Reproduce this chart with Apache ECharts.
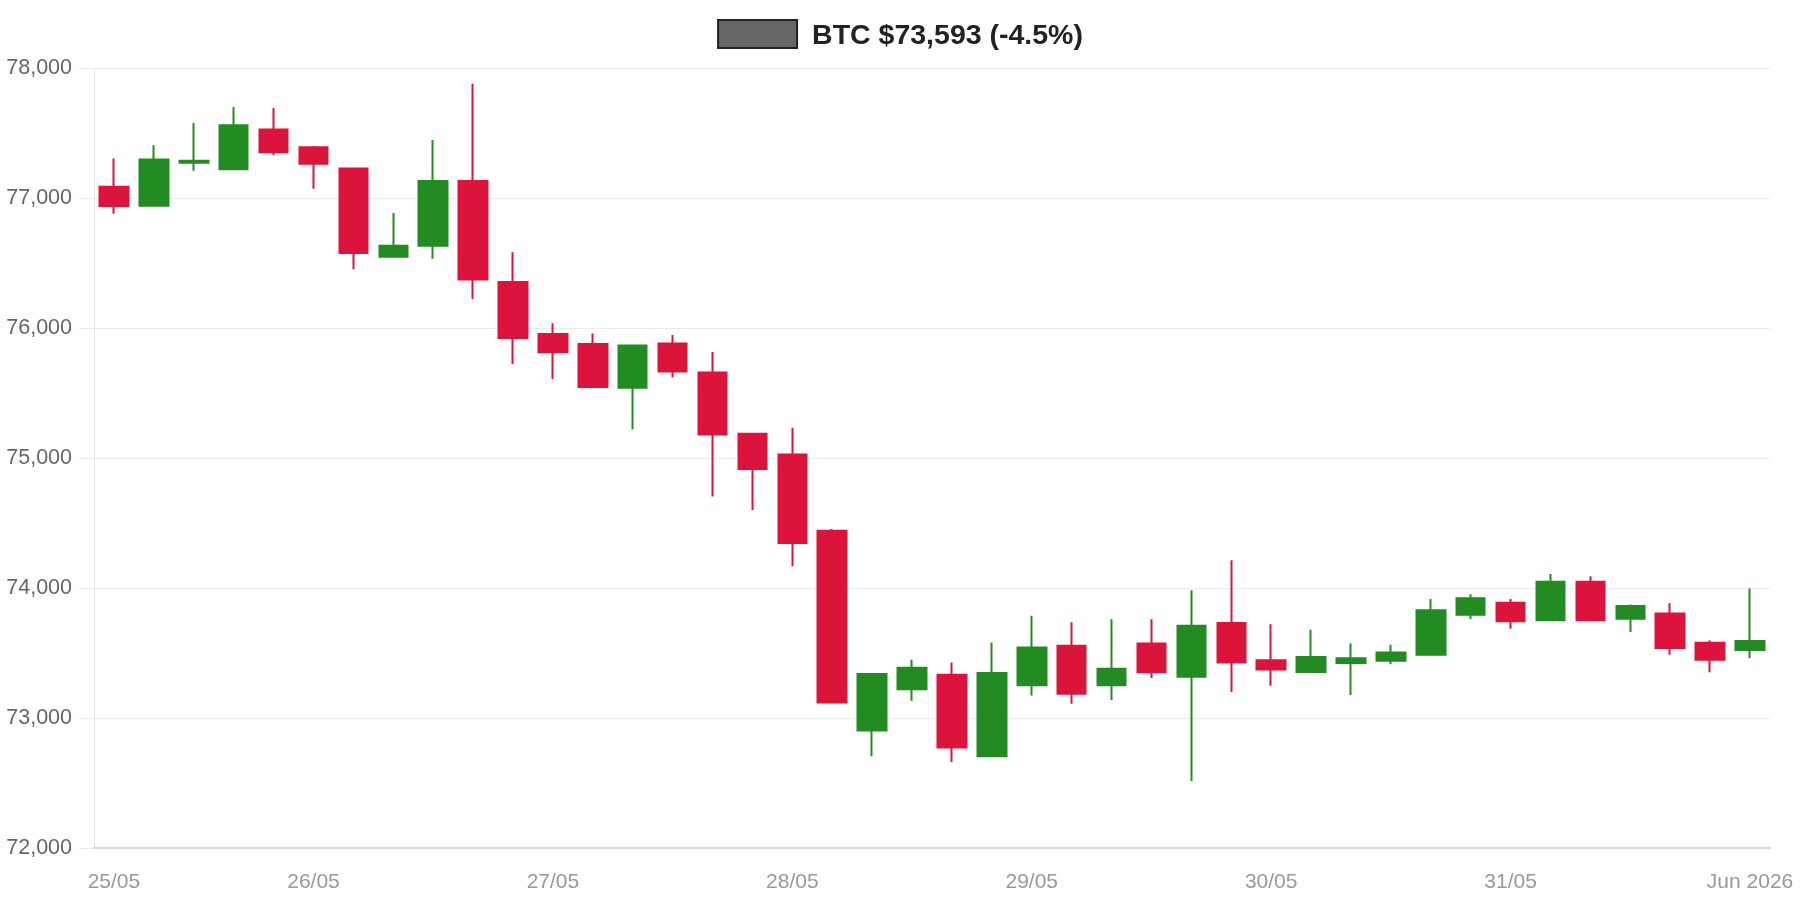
<!DOCTYPE html>
<html>
<head>
<meta charset="utf-8">
<script src="https://cdn.jsdelivr.net/npm/echarts@6/dist/echarts.min.js"></script>
<style>
html,body{margin:0;padding:0;background:#fff;}
#chart{width:1800px;height:900px;}
</style>
</head>
<body>
<div id="chart"></div>
<script>
const seriesName = 'BTC $73,593 (-4.5%)';
const times = [
 '25/05 04:00','25/05 08:00','25/05 12:00','25/05 16:00','25/05 20:00',
 '26/05 00:00','26/05 04:00','26/05 08:00','26/05 12:00','26/05 16:00','26/05 20:00',
 '27/05 00:00','27/05 04:00','27/05 08:00','27/05 12:00','27/05 16:00','27/05 20:00',
 '28/05 00:00','28/05 04:00','28/05 08:00','28/05 12:00','28/05 16:00','28/05 20:00',
 '29/05 00:00','29/05 04:00','29/05 08:00','29/05 12:00','29/05 16:00','29/05 20:00',
 '30/05 00:00','30/05 04:00','30/05 08:00','30/05 12:00','30/05 16:00','30/05 20:00',
 '31/05 00:00','31/05 04:00','31/05 08:00','31/05 12:00','31/05 16:00','31/05 20:00',
 '01/06 00:00'
];
const opens  = [77087,76941,77272,77221,77526,77390,77226,76549,76633,77131,76354,75954,75876,75541,75881,75657,75186,75027,74441,72903,73222,73332,72705,73251,73556,73251,73574,73318,73731,73444,73354,73423,73441,73487,73795,73887,73751,74049,73764,73803,73579,73523];
const closes = [76938,77297,77287,77559,77351,77264,76577,76633,77131,76374,75923,75813,75546,75865,75665,75181,74916,74346,73119,73338,73386,72773,73346,73543,73187,73379,73351,73710,73426,73374,73469,73459,73503,73828,73921,73744,74049,73751,73862,73538,73449,73593];
const lows   = [76879,76938,77210,77221,77328,77072,76451,76546,76533,76223,75723,75608,75546,75222,75622,74703,74600,74168,73119,72705,73132,72662,72705,73173,73110,73138,73308,72515,73200,73249,73354,73177,73413,73487,73762,73687,73751,73746,73662,73487,73351,73459];
const highs  = [77303,77405,77577,77700,77692,77400,77226,76885,77446,77879,76582,76036,75957,75865,75946,75816,75190,75232,74454,73338,73449,73427,73581,73786,73736,73759,73759,73982,74213,73721,73679,73574,73564,73915,73951,73915,74108,74090,73874,73882,73597,73997];
const tickTimes  = ['25/05 04:00','26/05 00:00','27/05 00:00','28/05 00:00','29/05 00:00','30/05 00:00','31/05 00:00','01/06 00:00'];
const tickLabels = ['25/05','26/05','27/05','28/05','29/05','30/05','31/05','Jun 2026'];

const candles = opens.map((o, i) => [o, closes[i], lows[i], highs[i]]);

const chart = echarts.init(document.getElementById('chart'), null, {renderer: 'canvas'});
chart.setOption({
  animation: false,
  backgroundColor: '#ffffff',
  legend: {
    top: 19,
    left: 'center',
    padding: 0,
    itemWidth: 79,
    itemHeight: 28,
    selectedMode: false,
    data: [{
      name: seriesName,
      icon: 'rect',
      itemStyle: {color: '#666666', borderColor: '#222222', borderWidth: 2}
    }],
    formatter: (name) => '{t|' + name + '}',
    textStyle: {
      fontFamily: 'Liberation Sans, Arial, sans-serif',
      fontSize: 28.5,
      fontWeight: 'bold',
      color: '#222222',
      padding: [0, 0, 0, 10],
      rich: {
        t: {
          fontFamily: 'Liberation Sans, Arial, sans-serif',
          fontSize: 28.5,
          fontWeight: 'bold',
          color: '#222222',
          padding: [5, 0, 0, 0]
        }
      }
    }
  },
  grid: {left: 94, right: 30, top: 68, bottom: 52, containLabel: false},
  xAxis: {
    type: 'category',
    data: times,
    boundaryGap: true,
    axisLine: {show: true, lineStyle: {color: '#d4d4d4', width: 2}},
    axisTick: {show: false},
    splitLine: {show: false},
    axisLabel: {
      interval: (idx, value) => tickTimes.indexOf(value) >= 0,
      formatter: (value) => tickLabels[tickTimes.indexOf(value)],
      color: '#999999',
      fontFamily: 'Liberation Sans, Arial, sans-serif',
      fontSize: 21,
      margin: 24,
      hideOverlap: false
    }
  },
  yAxis: {
    type: 'value',
    min: 72000,
    max: 78000,
    interval: 1000,
    axisLine: {show: true, lineStyle: {color: '#e4e4e4', width: 1}},
    axisTick: {show: true, length: 15, lineStyle: {color: '#ebebeb'}},
    splitLine: {show: true, lineStyle: {color: '#ebebeb', width: 1}},
    axisLabel: {
      formatter: (v) => v.toLocaleString('en-US'),
      color: '#666666',
      fontFamily: 'Liberation Sans, Arial, sans-serif',
      fontSize: 21.5,
      margin: 22
    }
  },
  series: [{
    name: seriesName,
    type: 'candlestick',
    data: candles,
    barWidth: 29,
    itemStyle: {
      color: '#228B22',
      color0: '#DC143C',
      borderColor: '#228B22',
      borderColor0: '#DC143C',
      borderWidth: 2
    }
  }]
});
</script>
</body>
</html>
